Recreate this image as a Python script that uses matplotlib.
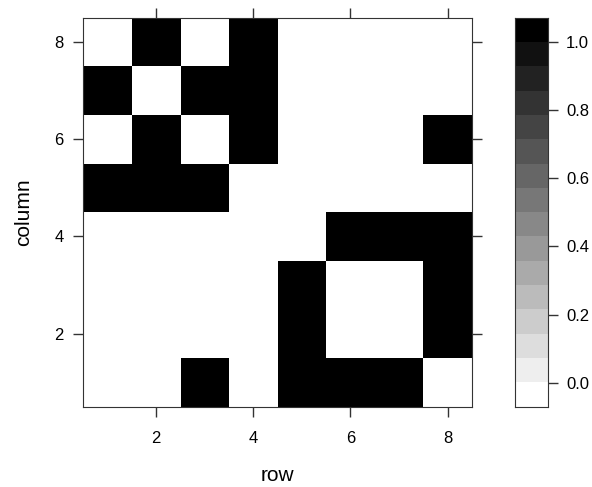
import numpy as np
import matplotlib
matplotlib.use("Agg")
import matplotlib.pyplot as plt
from matplotlib.colors import ListedColormap, BoundaryNorm

plt.rcParams['font.family'] = ['Liberation Sans', 'DejaVu Sans']

# binary matrix: one list per column (y = 1..8), values along row (x = 1..8)
col1 = [0, 0, 1, 0, 1, 1, 1, 0]
col2 = [0, 0, 0, 0, 1, 0, 0, 1]
col3 = [0, 0, 0, 0, 1, 0, 0, 1]
col4 = [0, 0, 0, 0, 0, 1, 1, 1]
col5 = [1, 1, 1, 0, 0, 0, 0, 0]
col6 = [0, 1, 0, 1, 0, 0, 0, 1]
col7 = [1, 0, 1, 1, 0, 0, 0, 0]
col8 = [0, 1, 0, 1, 0, 0, 0, 0]

ticks = [2, 4, 6, 8]
cbar_ticks = [0.0, 0.2, 0.4, 0.6, 0.8, 1.0]

z = np.array([col1, col2, col3, col4, col5, col6, col7, col8], dtype=float)

# lattice-style levels: range padded by 7%, 15 cuts -> 16 bands
n_bands = 16
breaks = np.linspace(-0.07, 1.07, n_bands + 1)
greys = [str(1 - k / (n_bands - 1)) for k in range(n_bands)]
cmap = ListedColormap(greys)
norm = BoundaryNorm(breaks, cmap.N)

edge = '#333333'
fig = plt.figure(figsize=(5.92, 4.87), dpi=100)
ax = fig.add_axes([0.141, 0.1649, 0.656, 0.7988])
cax = fig.add_axes([0.870, 0.1649, 0.055, 0.7988])

xe = np.arange(0.5, 9.0, 1.0)
ax.pcolormesh(xe, xe, z, cmap=cmap, norm=norm)
ax.set_xlim(0.5, 8.5)
ax.set_ylim(0.5, 8.5)
ax.set_xticks(ticks)
ax.set_yticks(ticks)
ax.tick_params(direction='out', length=7.2, width=1, color=edge,
               top=True, right=True, labelsize=12)
ax.tick_params(axis='x', pad=10)
ax.tick_params(axis='y', pad=7)
for s in ax.spines.values():
    s.set_color(edge)
ax.set_xlabel('row', fontsize=15, labelpad=15)
ax.set_ylabel('column', fontsize=15, labelpad=15)

# colour key
for i in range(n_bands):
    cax.axhspan(breaks[i], breaks[i + 1], color=greys[i], lw=0)
cax.set_ylim(breaks[0], breaks[-1])
cax.set_xlim(0, 1)
cax.set_xticks([])
cax.yaxis.tick_right()
cax.set_yticks(cbar_ticks)
cax.set_yticklabels(['%.1f' % t for t in cbar_ticks])
cax.tick_params(direction='out', length=7.2, width=1, color=edge,
                labelsize=12, pad=6)
for s in cax.spines.values():
    s.set_color(edge)

fig.savefig('out.png', dpi=100)
